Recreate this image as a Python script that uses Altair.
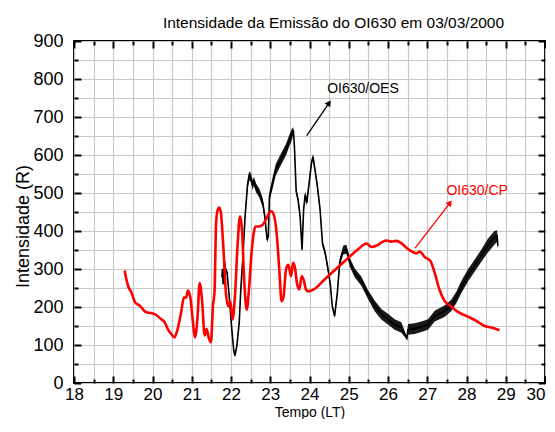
import altair as alt
import pandas as pd

# ---------------- data ----------------
title_text = "Intensidade da Emissão do OI630 em 03/03/2000"

# OI630/CP (red)
cp_t = [19.29, 19.33, 19.39, 19.46, 19.56, 19.67, 19.84, 19.97, 20.09, 20.22,
        20.31, 20.39, 20.47, 20.56, 20.64, 20.73, 20.80, 20.86, 20.90, 20.97,
        21.03, 21.08, 21.15, 21.20, 21.26, 21.33, 21.38, 21.43, 21.49, 21.54,
        21.58, 21.62, 21.66, 21.70, 21.74, 21.78, 21.82, 21.87, 21.93, 21.98,
        22.04, 22.10, 22.17, 22.23, 22.28, 22.34, 22.40, 22.47, 22.53, 22.58,
        22.62, 22.72, 22.81, 22.89, 22.97, 23.03, 23.10, 23.17, 23.23, 23.29,
        23.34, 23.40, 23.46, 23.53, 23.58, 23.63, 23.68, 23.74, 23.80, 23.85,
        23.91, 23.97, 24.12, 24.39, 24.90, 25.24, 25.45, 25.58, 25.70, 25.87,
        25.96, 26.08, 26.21, 26.34, 26.49, 26.61, 26.72, 26.81, 26.93, 27.08,
        27.19, 27.31, 27.44, 27.61, 27.78, 28.03, 28.29, 28.46, 28.63, 28.84]
cp_i = [296, 275, 252, 239, 212, 204, 186, 184, 179, 168,
        160, 142, 130, 120, 142, 186, 225, 225, 243, 221,
        160, 120, 177, 263, 221, 125, 142, 120, 107, 203,
        240, 420, 455, 462, 450, 400, 330, 237, 202, 215,
        167, 228, 368, 439, 404, 263, 193, 263, 351, 395,
        412, 412, 417, 430, 447, 452, 439, 386, 298, 215,
        228, 298, 311, 281, 316, 303, 263, 246, 281, 272,
        246, 241, 247, 273, 321, 352, 367, 358, 361, 372,
        375, 372, 374, 368, 354, 346, 341, 346, 332, 321,
        290, 246, 216, 201, 187, 175, 161, 150, 146, 139]

# OI630/OES (black, noisy) : centre line and half-width of the noise band
oes_t = [21.77, 21.78, 21.80, 21.83, 21.86, 21.90, 21.96, 22.02, 22.07, 22.10,
         22.15, 22.21, 22.25, 22.30, 22.36, 22.42, 22.46, 22.51, 22.55, 22.58,
         22.64, 22.72, 22.81, 22.86, 22.92, 22.95, 22.98, 23.06, 23.14, 23.27,
         23.40, 23.48, 23.55, 23.59, 23.62, 23.66, 23.71, 23.76, 23.81, 23.85,
         23.89, 23.93, 23.99, 24.05, 24.09, 24.14, 24.20, 24.27, 24.33, 24.40,
         24.46, 24.53, 24.58, 24.64, 24.71, 24.77, 24.86, 24.94, 25.03, 25.15,
         25.32, 25.49, 25.66, 25.83, 26.00, 26.17, 26.34, 26.48, 26.51, 26.68,
         26.85, 27.02, 27.19, 27.44, 27.61, 27.74, 27.86, 28.03, 28.20, 28.37,
         28.54, 28.71, 28.78, 28.80]
oes_i = [278, 300, 260, 322, 300, 291, 221, 142, 85, 72,
         98, 160, 247, 326, 440, 520, 545, 540, 520, 531,
         513, 500, 474, 439, 377, 386, 491, 526, 561, 588,
         614, 636, 654, 665, 614, 505, 482, 439, 351, 456,
         496, 474, 526, 579, 595, 561, 518, 456, 368, 342,
         307, 260, 202, 176, 238, 317, 350, 352, 317, 290,
         268, 233, 203, 181, 168, 154, 146, 118, 141, 143,
         148, 154, 176, 189, 204, 225, 251, 282, 308, 334,
         361, 382, 387, 361]
oes_spread = [6, 6, 6, 5, 5, 5, 5, 5, 5, 5,
              5, 5, 5, 6, 8, 10, 12, 12, 12, 12,
              12, 12, 12, 10, 8, 8, 12, 15, 15, 15,
              15, 15, 15, 8, 8, 8, 8, 8, 6, 8,
              8, 8, 8, 8, 8, 8, 8, 8, 8, 8,
              8, 8, 6, 5, 8, 10, 12, 12, 12, 12,
              12, 12, 14, 14, 14, 14, 14, 4, 14, 14,
              14, 14, 14, 15, 15, 15, 16, 16, 16, 16,
              18, 18, 15, 10]

# annotations
ann_label = ["OI630/OES", "OI630/CP"]
ann_color = ["black", "#ff0000"]
ann_tx = [24.45, 27.49]
ann_ty = [763, 495]
arr_x1 = [23.93, 26.69]
arr_y1 = [651, 355]
arr_x2 = [24.50, 27.58]
arr_y2 = [737, 474]
arr_angle = [35, 38]

# axis tick values
x_major = [18, 19, 20, 21, 22, 23, 24, 25, 26, 27, 28, 29, 30]
x_last = [30]
x_minor = [18.5, 19.5, 20.5, 21.5, 22.5, 23.5, 24.5, 25.5, 26.5, 27.5, 28.5, 29.5]
y_major = [0, 100, 200, 300, 400, 500, 600, 700, 800, 900]
y_minor = [50, 150, 250, 350, 450, 550, 650, 750, 850]

# ---------------- chart ----------------
FONT = "Liberation Sans"

cp_df = pd.DataFrame({"t": cp_t, "v": cp_i})
oes_df = pd.DataFrame({
    "t": oes_t, "v": oes_i,
    "lo": [v - s for v, s in zip(oes_i, oes_spread)],
    "hi": [v + s for v, s in zip(oes_i, oes_spread)],
})
ann_df = pd.DataFrame({
    "label": ann_label, "color": ann_color, "tx": ann_tx, "ty": ann_ty,
    "x1": arr_x1, "y1": arr_y1, "x2": arr_x2, "y2": arr_y2, "ang": arr_angle,
})

xs = alt.Scale(domain=[18, 30], nice=False, zero=False)
ys = alt.Scale(domain=[0, 900], nice=False, zero=False)


def axis_layer(xaxis, yaxis):
    return alt.Chart(cp_df).mark_point(opacity=0).encode(
        x=alt.X("t:Q", scale=xs, axis=xaxis),
        y=alt.Y("v:Q", scale=ys, axis=yaxis),
    )


def tick_axis(orient, values, size, labels=False, **kw):
    return alt.Axis(
        orient=orient, values=values, offset=-size, tickSize=size,
        tickWidth=2, tickColor="black", domain=False, grid=False,
        labels=labels, labelFlush=False, labelOverlap=False,
        minExtent=0, zindex=2, **kw)


xlab = dict(format="d", labelPadding=3, labelFont=FONT, labelFontSize=17,
            labelColor="black")

grid_layer = axis_layer(
    alt.Axis(orient="bottom", values=x_major + x_minor, grid=True,
             gridColor="#c8c8c8", gridWidth=1.2, ticks=False, labels=False,
             domain=False, title=None, zindex=0, minExtent=0),
    alt.Axis(orient="left", values=y_major + y_minor, grid=True,
             gridColor="#c8c8c8", gridWidth=1.2, ticks=False, labels=False,
             domain=False, title=None, zindex=0, minExtent=0),
)

major_bl = axis_layer(
    tick_axis("bottom", x_major, 7, labels=True,
              labelExpr="datum.value == 30 ? '' : datum.label",
              title="Tempo (LT)", titleFont=FONT,
              titleFontSize=14, titleFontWeight="normal", titleColor="black",
              titleBaseline="alphabetic", titleY=40, **xlab),
    tick_axis("left", y_major, 7, labels=True, format="d",
              labelPadding=11, labelFont=FONT, labelFontSize=18,
              labelColor="black", title="Intensidade (R)", titleFont=FONT,
              titleFontSize=18, titleFontWeight="normal", titleColor="black",
              titleAngle=270, titleAlign="center", titleBaseline="alphabetic",
              titleX=-53, titleY=185),
)
last_label = axis_layer(
    tick_axis("bottom", x_last, 7, labels=True, labelAlign="right",
              title=None, **xlab),
    None,
)
minor_bl = axis_layer(tick_axis("bottom", x_minor, 4, title=None),
                      tick_axis("left", y_minor, 4, title=None))
major_tr = axis_layer(tick_axis("top", x_major, 7, title=None),
                      tick_axis("right", y_major, 7, title=None))
minor_tr = axis_layer(tick_axis("top", x_minor, 4, title=None),
                      tick_axis("right", y_minor, 4, title=None))

oes_band = alt.Chart(oes_df).mark_area(color="black", opacity=0.9).encode(
    x=alt.X("t:Q", scale=xs, axis=None),
    y=alt.Y("lo:Q", scale=ys, axis=None),
    y2="hi:Q",
)
oes_line = alt.Chart(oes_df).mark_line(color="black", strokeWidth=1.6).encode(
    x=alt.X("t:Q", scale=xs, axis=None),
    y=alt.Y("v:Q", scale=ys, axis=None),
)
cp_line = alt.Chart(cp_df).mark_line(
    color="#ff0000", strokeWidth=2.6, strokeJoin="round", interpolate="monotone"
).encode(
    x=alt.X("t:Q", scale=xs, axis=None),
    y=alt.Y("v:Q", scale=ys, axis=None),
)
arrows = alt.Chart(ann_df).mark_rule(strokeWidth=1.3).encode(
    x=alt.X("x1:Q", scale=xs, axis=None),
    y=alt.Y("y1:Q", scale=ys, axis=None),
    x2="x2:Q", y2="y2:Q",
    color=alt.Color("color:N", scale=None),
)
heads = alt.Chart(ann_df).mark_point(shape="triangle-up", filled=True,
                                     size=45, opacity=1).encode(
    x=alt.X("x2:Q", scale=xs, axis=None),
    y=alt.Y("y2:Q", scale=ys, axis=None),
    angle=alt.Angle("ang:Q", scale=None),
    color=alt.Color("color:N", scale=None),
)
labels = alt.Chart(ann_df).mark_text(align="left", baseline="alphabetic",
                                     font=FONT, fontSize=14).encode(
    x=alt.X("tx:Q", scale=xs, axis=None),
    y=alt.Y("ty:Q", scale=ys, axis=None),
    text="label:N",
    color=alt.Color("color:N", scale=None),
)

chart = alt.layer(
    grid_layer, oes_band, oes_line, cp_line, arrows, heads, labels,
    major_bl, last_label, minor_bl, major_tr, minor_tr,
).resolve_axis(
    x="independent", y="independent"
).properties(
    width=471, height=342,
    padding={"left": 66, "top": 33, "right": 1, "bottom": 36},
    autosize=alt.AutoSizeParams(type="none"),
    background="white",
    title=alt.TitleParams(title_text, font=FONT, fontSize=15.5,
                          fontWeight="normal", color="black",
                          anchor="middle", dx=24, dy=13, offset=2,
                          baseline="alphabetic"),
).configure_view(stroke="black", strokeWidth=2)

chart.save("out.html", embed_options={"renderer": "svg", "actions": False})
